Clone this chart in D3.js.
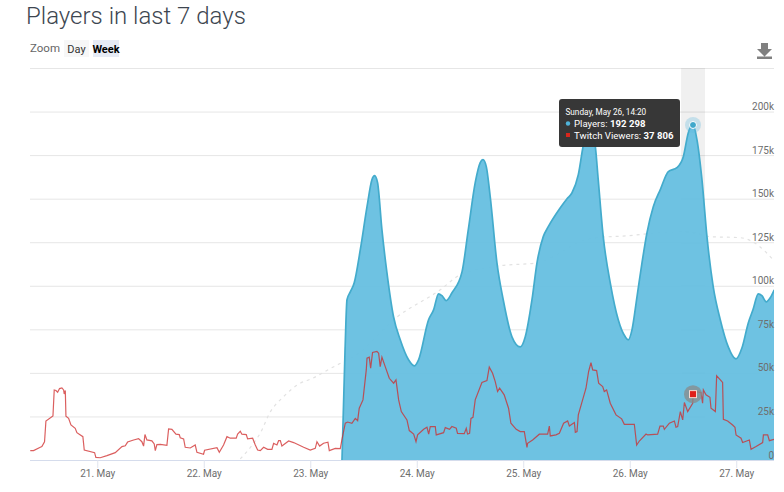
<!DOCTYPE html>
<html>
<head>
<meta charset="utf-8">
<script src="https://cdn.jsdelivr.net/npm/d3@7"></script>
<style>
  html, body { margin: 0; padding: 0; background: #fff; }
  svg { display: block; font-family: Roboto, sans-serif; }
</style>
</head>
<body>
<div id="chart"></div>
<script>
// days are decimal days of May 2019, values in thousands
var playerDays = [23.298,23.326,23.345,23.376,23.413,23.470,23.533,23.579,23.604,23.632,23.673,23.720,23.782,23.845,23.923,23.977,24.017,24.111,24.158,24.205,24.237,24.277,24.331,24.425,24.484,24.549,24.596,24.622,24.653,24.690,24.753,24.812,24.894,24.972,25.019,25.082,25.129,25.188,25.235,25.348,25.411,25.458,25.517,25.564,25.620,25.648,25.676,25.704,25.751,25.817,25.892,25.958,25.986,26.021,26.068,26.115,26.162,26.221,26.287,26.362,26.443,26.503,26.550,26.594,26.631,26.678,26.725,26.784,26.850,26.925,26.997,27.054,27.113,27.157,27.207,27.241,27.282,27.319,27.357];
var playerValues = [0,61.5,92.0,96.5,101.7,120.7,145.4,160.9,163.2,159.2,132.2,107.5,82.2,69.0,57.5,54.0,57.5,80.5,86.2,95.4,94.3,91.5,96.0,108.0,132.2,159.2,170.7,172.4,168.4,151.1,113.2,92.0,70.7,64.9,70.7,92.0,113.2,128.2,133.9,144.8,150.0,153.4,163.8,180.5,191.0,188.5,180.5,160.9,128.2,101.7,80.5,70.7,69.0,74.7,93.7,113.2,130.5,145.4,155.2,165.5,167.8,174.1,187.9,192.3,183.9,160.9,128.2,99.4,80.5,64.9,58.0,64.4,78.7,86.2,95.4,94.3,90.8,93.1,97.7];

var viewerDays = [20.371,20.402,20.465,20.480,20.505,20.518,20.584,20.596,20.612,20.628,20.646,20.668,20.684,20.690,20.700,20.706,20.731,20.753,20.793,20.809,20.865,20.878,20.975,20.987,21.028,21.091,21.169,21.232,21.263,21.285,21.341,21.388,21.419,21.435,21.448,21.466,21.513,21.535,21.545,21.560,21.592,21.654,21.670,21.701,21.739,21.770,21.779,21.811,21.826,21.873,21.920,21.936,21.998,22.008,22.124,22.146,22.186,22.218,22.249,22.305,22.318,22.343,22.358,22.399,22.412,22.459,22.484,22.506,
  22.531,22.562,22.600,22.640,22.656,22.687,22.703,22.719,22.734,22.797,22.844,22.938,23.000,23.047,23.063,23.088,23.125,23.166,23.179,23.235,23.282,23.297,23.329,23.351,23.391,23.423,23.445,23.460,23.495,23.526,23.533,23.554,23.567,23.585,23.626,23.642,23.657,23.673,23.704,23.742,23.783,23.805,23.830,23.855,23.908,23.930,23.971,23.993,24.008,24.065,24.096,24.112,24.127,24.174,24.183,24.252,24.268,24.308,24.330,24.371,24.383,24.446,24.465,24.477,24.496,24.509,24.528,24.549,24.612,24.659,24.681,24.712,24.737,24.759,24.778,24.821,24.862,24.884,24.934,24.972,
  25.010,25.035,25.041,25.088,25.151,25.229,25.245,25.254,25.307,25.339,25.379,25.417,25.433,25.480,25.489,25.505,25.517,25.589,25.614,25.636,25.652,25.689,25.708,25.746,25.761,25.783,25.817,25.871,25.924,25.949,26.043,26.065,26.090,26.153,26.168,26.262,26.284,26.315,26.325,26.372,26.419,26.434,26.450,26.475,26.497,26.513,26.544,26.591,26.596,26.622,26.669,26.684,26.691,26.716,26.753,26.763,26.804,26.816,26.872,26.879,26.919,26.966,26.988,26.998,27.045,27.060,27.123,27.139,27.186,27.248,27.255,27.295,27.311,27.358];
var viewerValues = [5.4,5.4,7.3,7.7,10.5,22.4,25.3,40.2,39.9,38.9,41.0,41.4,40.2,37.9,39.9,25.1,23.9,20.1,18.2,15.7,13.4,5.7,4.2,1.5,1.3,2.5,4.2,7.7,8.2,10.3,11.5,12.3,10.5,8.0,14.6,11.5,11.0,9.2,5.4,8.8,9.0,8.4,17.8,17.6,14.8,14.6,12.8,12.1,7.3,6.9,8.6,4.4,3.3,5.6,7.1,4.4,8.6,13.4,12.5,12.5,14.9,16.5,14.8,14.6,12.1,12.5,8.6,5.7,
  5.4,7.3,6.1,6.1,9.6,8.6,11.1,11.1,8.0,10.9,10.0,7.3,5.7,6.7,10.5,8.0,9.6,10.2,5.4,6.7,6.5,11.5,21.1,21.8,21.1,23.9,22.6,29.7,34.5,51.7,58.4,59.0,52.7,61.7,62.3,61.3,53.6,59.0,53.6,46.9,44.1,46.0,34.5,27.8,23.0,16.9,14.9,10.5,14.4,17.6,18.8,14.9,19.2,19.2,14.4,15.7,18.6,17.6,19.2,18.2,15.3,15.1,18.2,14.9,15.3,23.9,24.5,34.5,44.5,45.6,53.3,49.8,45.0,39.3,41.2,37.4,29.7,21.1,17.6,16.3,
  16.3,7.3,9.6,11.5,14.8,14.8,19.5,13.8,14.4,15.3,21.1,22.4,19.5,21.5,15.9,16.3,25.9,41.2,50.8,55.9,51.7,51.3,44.1,42.2,39.3,40.2,32.6,25.9,23.6,20.5,20.5,8.6,10.9,14.9,14.4,14.8,19.5,19.5,17.6,21.1,22.4,18.8,19.2,27.8,23.0,33.0,27.8,32.6,37.8,39.3,38.7,32.6,40.2,37.4,36.0,29.7,27.8,48.3,44.5,23.4,22.4,20.1,18.8,14.4,12.5,10.0,11.5,6.1,7.7,10.0,14.4,14.4,11.1,11.9];

// the faint dotted series behind the area
var dottedDays = [22.343,22.455,22.531,22.625,22.747,22.878,23.028,23.216,23.310,23.404,23.817,24.221,24.409,24.784,25.132,25.348,25.507,25.695,25.977,26.287,26.540,26.756,27.038,27.197,27.347];
var dottedValues = [0.6,8.6,15.5,27.6,36.2,43.1,47.1,53.4,56.3,59.2,82.2,97.7,106.3,111.5,113.2,119.0,124.7,127.6,128.7,130.5,131.0,128.2,127.6,123.6,114.9];

var yTicks = [0,25,50,75,100,125,150,175,200,225];
var xTicks = [21,22,23,24,25,26,27];
var hoverDay = 26.594, hoverPlayers = 192.298, hoverViewers = 37.806;
var tooltipDate = "Sunday, May 26, 14:20";

var width = 784, height = 492;
var plot = {left: 30, right: 774, top: 68, bottom: 460};

function toDate(d) {
  return new Date(2019, 4, Math.floor(d), 0, 0, Math.round((d % 1) * 86400));
}

var x = d3.scaleTime()
  .domain([toDate(20.3685), toDate(27.3545)])
  .range([plot.left, plot.right]);
var y = d3.scaleLinear()
  .domain([0, 225])
  .range([plot.bottom, plot.top]);

var svg = d3.select("#chart").append("svg")
  .attr("width", width)
  .attr("height", height);

svg.append("clipPath").attr("id", "plot-clip").append("rect")
  .attr("x", plot.left).attr("y", plot.top)
  .attr("width", plot.right - plot.left).attr("height", plot.bottom - plot.top);

// title and zoom buttons
svg.append("text").attr("x", 26).attr("y", 24)
  .style("font-size", "24px").style("font-weight", 300).style("fill", "#3d4650")
  .text("Players in last 7 days");

svg.append("text").attr("x", 30).attr("y", 52)
  .style("font-size", "11.5px").style("fill", "#666").text("Zoom");
svg.append("rect").attr("x", 64).attr("y", 40).attr("width", 25).attr("height", 17).attr("fill", "#f7f7f7");
svg.append("rect").attr("x", 93).attr("y", 40).attr("width", 26).attr("height", 17).attr("fill", "#e6ebf5");
svg.append("text").attr("x", 76.5).attr("y", 53).attr("text-anchor", "middle")
  .style("font-size", "11px").style("fill", "#333").text("Day");
svg.append("text").attr("x", 106).attr("y", 53).attr("text-anchor", "middle")
  .style("font-size", "11px").style("font-weight", 700).style("fill", "#000").text("Week");

// download icon
svg.append("path")
  .attr("d", "M761 43h7v6h4l-7.5 7.5L757 49h4z M757 56.5h15v2.5h-15z")
  .attr("fill", "#808080");

// grid
var grid = svg.append("g").attr("class", "grid");
grid.selectAll("line")
  .data(yTicks.filter(function(d) { return d > 0; }))
  .enter().append("line")
  .attr("x1", plot.left).attr("x2", plot.right)
  .attr("y1", function(d) { return y(d) + 0.5; })
  .attr("y2", function(d) { return y(d) + 0.5; })
  .attr("stroke", "#e6e6e6");

// hover band
svg.append("rect")
  .attr("x", x(toDate(hoverDay)) - 12).attr("y", plot.top)
  .attr("width", 24).attr("height", plot.bottom - plot.top)
  .attr("fill", "#000").attr("fill-opacity", 0.06);

var seriesGroup = svg.append("g").attr("clip-path", "url(#plot-clip)");

var dottedLine = d3.line()
  .x(function(d, i) { return x(toDate(dottedDays[i])); })
  .y(function(d) { return y(d); })
  .curve(d3.curveMonotoneX);
seriesGroup.append("path")
  .attr("d", dottedLine(dottedValues))
  .attr("fill", "none")
  .attr("stroke", "#e2e2e2")
  .attr("stroke-width", 1.2)
  .attr("stroke-dasharray", "3,4");

var playerArea = d3.area()
  .x(function(d, i) { return x(toDate(playerDays[i])); })
  .y0(plot.bottom)
  .y1(function(d) { return y(d); })
  .curve(d3.curveMonotoneX);
var playerLine = d3.line()
  .x(function(d, i) { return x(toDate(playerDays[i])); })
  .y(function(d) { return y(d); })
  .curve(d3.curveMonotoneX);

seriesGroup.append("path")
  .attr("d", playerArea(playerValues))
  .attr("fill", "#66bfe0")
  .attr("fill-opacity", 0.95);
seriesGroup.append("path")
  .attr("d", playerLine(playerValues))
  .attr("fill", "none")
  .attr("stroke", "#43abcc")
  .attr("stroke-width", 1.7);

var viewerLine = d3.line()
  .x(function(d, i) { return x(toDate(viewerDays[i])); })
  .y(function(d) { return y(d); });
seriesGroup.append("path")
  .attr("d", viewerLine(viewerValues))
  .attr("fill", "none")
  .attr("stroke", "#cf2a2a")
  .attr("stroke-opacity", 0.75)
  .attr("stroke-width", 1.2);

// axes
var xAxis = d3.axisBottom(x)
  .tickValues(xTicks.map(toDate))
  .tickFormat(d3.timeFormat("%-d. %b"))
  .tickSize(8)
  .tickPadding(2);
var xAxisGroup = svg.append("g")
  .attr("transform", "translate(0," + plot.bottom + ")")
  .call(xAxis);
xAxisGroup.select(".domain").attr("stroke", "#d5dcec").attr("d", "M" + plot.left + ",0.5H" + plot.right);
xAxisGroup.selectAll(".tick line").attr("stroke", "#e0e4ee");
xAxisGroup.selectAll("text")
  .style("font-size", "10px").style("fill", "#6e6e6e").style("font-family", "Roboto, sans-serif");

var yAxisGroup = svg.append("g")
  .attr("transform", "translate(" + plot.right + ",0)")
  .call(d3.axisLeft(y).tickValues(yTicks.filter(function(d) { return d < 225; }))
    .tickFormat(function(d) { return d === 0 ? "0" : d + "k"; })
    .tickSize(0).tickPadding(0));
yAxisGroup.select(".domain").remove();
yAxisGroup.selectAll("text")
  .attr("dy", "-0.2em")
  .style("font-size", "10px").style("fill", "#6e6e6e").style("font-family", "Roboto, sans-serif");

// hover markers
var hx = x(toDate(hoverDay));
svg.append("circle").attr("cx", hx).attr("cy", y(hoverPlayers)).attr("r", 8)
  .attr("fill", "#5fbadd").attr("fill-opacity", 0.3);
svg.append("circle").attr("cx", hx).attr("cy", y(hoverPlayers)).attr("r", 3.5)
  .attr("fill", "#3fa8cb").attr("stroke", "#fff").attr("stroke-width", 1);
svg.append("circle").attr("cx", hx).attr("cy", y(hoverViewers)).attr("r", 9)
  .attr("fill", "#8a8a8a").attr("fill-opacity", 0.75);
svg.append("rect").attr("x", hx - 3.5).attr("y", y(hoverViewers) - 3.5).attr("width", 7).attr("height", 7)
  .attr("fill", "#e0201b").attr("stroke", "#f6d9d0").attr("stroke-width", 1);

// tooltip
var tooltip = svg.append("g").attr("transform", "translate(559,99)");
tooltip.append("rect").attr("width", 121).attr("height", 48).attr("rx", 3)
  .attr("fill", "#333").attr("fill-opacity", 0.98);
tooltip.append("text").attr("x", 6.5).attr("y", 15.5)
  .style("font-size", "8.2px").style("fill", "#fff").text(tooltipDate);
tooltip.append("circle").attr("cx", 9).attr("cy", 24.5).attr("r", 2.2).attr("fill", "#4fb3d9");
var t1 = tooltip.append("text").attr("x", 15).attr("y", 28).style("font-size", "9.6px").style("fill", "#fff");
t1.append("tspan").text("Players: ");
t1.append("tspan").style("font-weight", 700).text("192 298");
tooltip.append("rect").attr("x", 7).attr("y", 34).attr("width", 4).attr("height", 4).attr("fill", "#d9261c");
var t2 = tooltip.append("text").attr("x", 15).attr("y", 40).style("font-size", "9.6px").style("fill", "#fff");
t2.append("tspan").text("Twitch Viewers: ");
t2.append("tspan").style("font-weight", 700).text("37 806");
</script>
</body>
</html>
